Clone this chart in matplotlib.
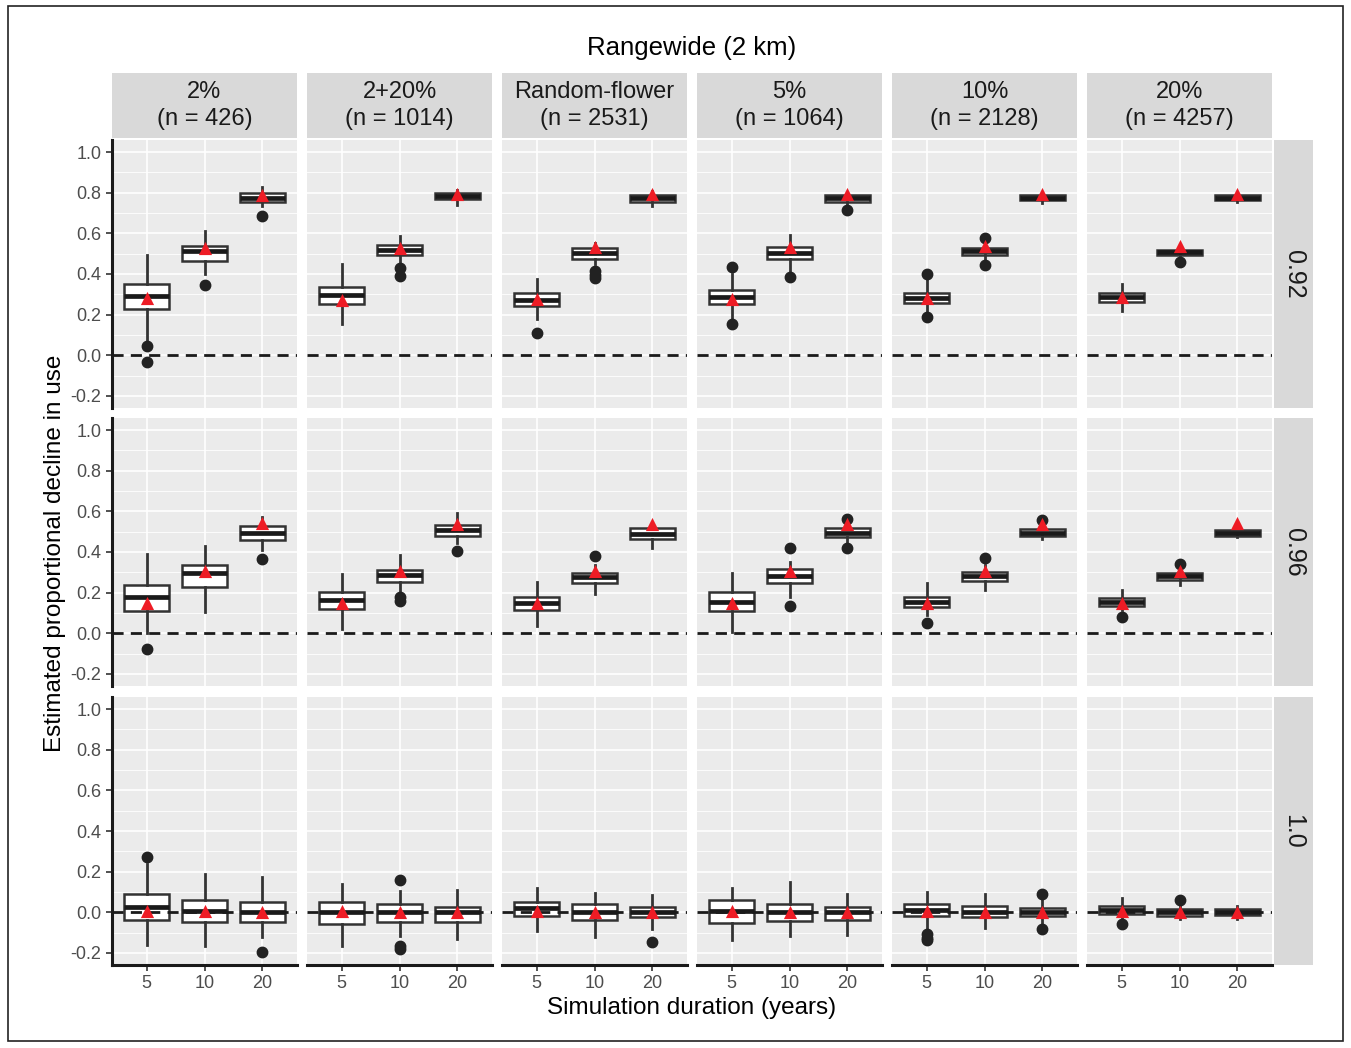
import matplotlib
matplotlib.use("Agg")
import matplotlib.pyplot as plt
from matplotlib.patches import Rectangle

plt.rcParams['font.family'] = ['Liberation Sans', 'DejaVu Sans']

# facet labels
col_labels = ["2%\n(n = 426)", "2+20%\n(n = 1014)", "Random-flower\n(n = 2531)",
              "5%\n(n = 1064)", "10%\n(n = 2128)", "20%\n(n = 4257)"]
row_labels = ["0.92", "0.96", "1.0"]
durations = ["5", "10", "20"]

# box stats, [row][col] -> values for durations 5, 10, 20
q1 = [
    [[0.228, 0.466, 0.755], [0.250, 0.493, 0.767], [0.243, 0.476, 0.755],
     [0.250, 0.475, 0.755], [0.255, 0.493, 0.764], [0.263, 0.496, 0.764]],
    [[0.111, 0.230, 0.459], [0.117, 0.253, 0.479], [0.113, 0.248, 0.466],
     [0.110, 0.248, 0.475], [0.128, 0.258, 0.478], [0.136, 0.261, 0.481]],
    [[-0.038, -0.046, -0.046], [-0.056, -0.046, -0.046], [-0.021, -0.038, -0.026],
     [-0.051, -0.043, -0.038], [-0.018, -0.026, -0.021], [-0.010, -0.018, -0.013]],
]
med = [
    [[0.294, 0.512, 0.775], [0.296, 0.516, 0.783], [0.274, 0.504, 0.772],
     [0.287, 0.504, 0.775], [0.282, 0.512, 0.775], [0.286, 0.508, 0.775]],
    [[0.180, 0.295, 0.495], [0.163, 0.286, 0.507], [0.149, 0.277, 0.491],
     [0.156, 0.282, 0.495], [0.156, 0.280, 0.495], [0.154, 0.280, 0.494]],
    [[0.028, 0.007, 0.002], [0.003, 0.003, 0.002], [0.021, 0.000, 0.000],
     [0.007, 0.002, 0.002], [0.011, 0.000, 0.002], [0.011, 0.002, 0.002]],
]
q3 = [
    [[0.353, 0.540, 0.800], [0.335, 0.542, 0.800], [0.304, 0.529, 0.788],
     [0.319, 0.532, 0.788], [0.307, 0.529, 0.787], [0.307, 0.520, 0.787]],
    [[0.238, 0.336, 0.528], [0.204, 0.310, 0.535], [0.176, 0.299, 0.516],
     [0.204, 0.314, 0.516], [0.179, 0.302, 0.512], [0.171, 0.299, 0.507]],
    [[0.089, 0.061, 0.048], [0.051, 0.039, 0.028], [0.051, 0.039, 0.028],
     [0.059, 0.039, 0.026], [0.039, 0.031, 0.020], [0.031, 0.018, 0.015]],
]
whis_lo = [
    [[0.070, 0.400, 0.735], [0.154, 0.455, 0.742], [0.176, 0.447, 0.735],
     [0.175, 0.414, 0.740], [0.210, 0.465, 0.750], [0.220, 0.490, 0.755]],
    [[0.000, 0.103, 0.410], [0.023, 0.195, 0.442], [0.034, 0.195, 0.420],
     [0.007, 0.179, 0.440], [0.089, 0.212, 0.465], [0.113, 0.236, 0.475]],
    [[-0.160, -0.165, -0.120], [-0.166, -0.117, -0.130], [-0.092, -0.120, -0.084],
     [-0.136, -0.117, -0.112], [-0.076, -0.076, -0.059], [-0.034, -0.034, -0.034]],
]
whis_hi = [
    [[0.496, 0.611, 0.828], [0.447, 0.585, 0.816], [0.376, 0.553, 0.810],
     [0.400, 0.591, 0.805], [0.370, 0.555, 0.800], [0.351, 0.530, 0.795]],
    [[0.390, 0.430, 0.574], [0.294, 0.384, 0.593], [0.253, 0.335, 0.530],
     [0.299, 0.351, 0.550], [0.245, 0.335, 0.530], [0.213, 0.327, 0.510]],
    [[0.236, 0.187, 0.171], [0.141, 0.105, 0.108], [0.120, 0.097, 0.084],
     [0.117, 0.149, 0.092], [0.100, 0.089, 0.072], [0.072, 0.039, 0.031]],
]
means = [
    [[0.282, 0.528, 0.790], [0.274, 0.528, 0.795], [0.278, 0.532, 0.795],
     [0.278, 0.532, 0.795], [0.280, 0.537, 0.795], [0.285, 0.537, 0.795]],
    [[0.150, 0.308, 0.541], [0.151, 0.307, 0.540], [0.151, 0.307, 0.537],
     [0.149, 0.305, 0.540], [0.149, 0.305, 0.540], [0.149, 0.305, 0.545]],
    [[0.007, 0.005, 0.003], [0.005, 0.003, 0.003], [0.007, 0.002, 0.002],
     [0.007, 0.003, 0.003], [0.005, 0.002, 0.002], [0.005, 0.003, 0.002]],
]
outliers = [
    [[[0.044, -0.033], [0.345], [0.688]], [[], [0.430, 0.390], []],
     [[0.107], [0.414, 0.395, 0.381], []], [[0.433, 0.154], [0.386], [0.714]],
     [[0.400, 0.189], [0.575, 0.443], []], [[], [0.460], []]],
    [[[-0.079], [], [0.366]], [[], [0.179, 0.160], [0.404]],
     [[], [0.379], []], [[], [0.422, 0.133], [0.565, 0.422]],
     [[0.048], [0.368], [0.560]], [[0.080], [0.340], []]],
    [[[0.273], [], [-0.195]], [[], [0.158, -0.166, -0.180], []],
     [[], [], [-0.149]], [[], [], []],
     [[-0.105, -0.125, -0.138], [], [0.092, -0.084]], [[-0.059], [0.059], []]],
]

W, H = 1351, 1048
fig = plt.figure(figsize=(W / 100, H / 100), dpi=100)
fig.patch.set_facecolor('white')

col_left = [112, 307, 502, 697, 892, 1087]
row_top = [140, 418, 697]
pw, ph = 185, 268

def frac(x, y, w, h):
    return [x / W, 1 - (y + h) / H, w / W, h / H]

pos = [1, 2, 3]
for r in range(3):
    for c in range(6):
        ax = fig.add_axes(frac(col_left[c], row_top[r], pw, ph))
        ax.set_facecolor('#EBEBEB')
        ax.set_xlim(0.4, 3.6)
        ax.set_ylim(-0.26, 1.06)
        # grid
        for v in [-0.1, 0.1, 0.3, 0.5, 0.7, 0.9]:
            ax.axhline(v, color='white', lw=0.6, zorder=0)
        for v in [-0.2, 0.0, 0.2, 0.4, 0.6, 0.8, 1.0]:
            ax.axhline(v, color='white', lw=1.2, zorder=0)
        for p in pos:
            ax.axvline(p, color='white', lw=1.2, zorder=0)

        stats = []
        for k in range(3):
            stats.append(dict(med=med[r][c][k], q1=q1[r][c][k], q3=q3[r][c][k],
                              whislo=whis_lo[r][c][k], whishi=whis_hi[r][c][k],
                              fliers=outliers[r][c][k]))
        ax.bxp(stats, positions=pos, widths=0.78, patch_artist=True, showcaps=False,
               boxprops=dict(facecolor='white', edgecolor='#333333', lw=1.8),
               whiskerprops=dict(color='#333333', lw=2.0),
               medianprops=dict(color='#1A1A1A', lw=3.4),
               flierprops=dict(marker='o', markerfacecolor='#222222',
                               markeredgecolor='#222222', markersize=7.5),
               zorder=2)
        ax.axhline(0, color='#1A1A1A', lw=2.0, ls=(0, (4, 2.6)), zorder=3)
        ax.scatter(pos, means[r][c], marker='^', s=90, color='#EE1C25', zorder=4,
                   linewidths=0)

        for s in ax.spines.values():
            s.set_visible(False)
        ax.set_yticks([-0.2, 0.0, 0.2, 0.4, 0.6, 0.8, 1.0])
        ax.set_xticks(pos)
        ax.tick_params(colors='#333333', labelcolor='#4D4D4D', labelsize=13,
                       length=4, width=1.2)
        if c == 0:
            ax.spines['left'].set_visible(True)
            ax.spines['left'].set_color('#1A1A1A')
            ax.spines['left'].set_linewidth(2.2)
            ax.set_yticklabels(['-0.2', '0.0', '0.2', '0.4', '0.6', '0.8', '1.0'])
        else:
            ax.tick_params(axis='y', left=False, labelleft=False)
        if r == 2:
            ax.spines['bottom'].set_visible(True)
            ax.spines['bottom'].set_color('#1A1A1A')
            ax.spines['bottom'].set_linewidth(2.2)
            ax.set_xticklabels(durations)
        else:
            ax.tick_params(axis='x', bottom=False, labelbottom=False)

# top strips
for c in range(6):
    sx = fig.add_axes(frac(col_left[c], 73, pw, 65))
    sx.set_facecolor('#D9D9D9')
    sx.set_xticks([])
    sx.set_yticks([])
    for s in sx.spines.values():
        s.set_visible(False)
    sx.text(0.5, 0.5, col_labels[c], ha='center', va='center', fontsize=17,
            color='#1A1A1A', linespacing=1.3, transform=sx.transAxes)

# right strips
for r in range(3):
    sy = fig.add_axes(frac(1274, row_top[r], 39, ph))
    sy.set_facecolor('#D9D9D9')
    sy.set_xticks([])
    sy.set_yticks([])
    for s in sy.spines.values():
        s.set_visible(False)
    sy.text(0.5, 0.5, row_labels[r], ha='center', va='center', fontsize=18,
            color='#1A1A1A', rotation=-90, transform=sy.transAxes)

fig.text(692 / W, 1 - 48 / H, "Rangewide (2 km)", ha='center', va='center',
         fontsize=18.5, color='black')
fig.text(692 / W, 1 - 1008 / H, "Simulation duration (years)", ha='center',
         va='center', fontsize=17.5, color='black')
fig.text(55 / W, 1 - 553 / H, "Estimated proportional decline in use", ha='center',
         va='center', rotation=90, fontsize=17.5, color='black')

# outer frame
fig.patches.append(Rectangle((8 / W, 1 - 1041 / H), 1335 / W, 1035 / H,
                             transform=fig.transFigure, fill=False,
                             edgecolor='#222222', lw=1.2))

fig.savefig('out.png', dpi=100)
